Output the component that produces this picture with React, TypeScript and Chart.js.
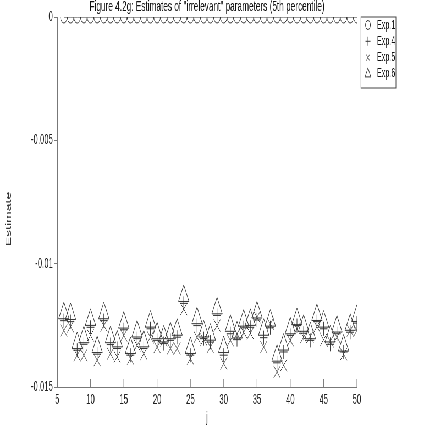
import React, { useEffect, useRef } from "react";
import { Chart, registerables } from "chart.js";

Chart.register(...registerables);

// ---- data ----
const jValues = [6, 7, 8, 9, 10, 11, 12, 13, 14, 15, 16, 17, 18, 19, 20, 21, 22, 23, 24, 25, 26, 27, 28, 29, 30, 31, 32, 33, 34, 35, 36, 37, 38, 39, 40, 41, 42, 43, 44, 45, 46, 47, 48, 49, 50];

const exp1 = [0, 0, 0, 0, 0, 0, 0, 0, 0, 0, 0, 0, 0, 0, 0, 0, 0, 0, 0, 0, 0, 0, 0, 0, 0, 0, 0, 0, 0, 0, 0, 0, 0, 0, 0, 0, 0, 0, 0, 0, 0, 0, 0, 0, 0];

const exp4 = [-0.01231, -0.01235, -0.01351, -0.01327, -0.01258, -0.01367, -0.01231, -0.01328, -0.01344, -0.01268, -0.01371, -0.01304, -0.01344, -0.01264, -0.01311, -0.01324, -0.01311, -0.01298, -0.01161, -0.01371, -0.01251, -0.01304, -0.01318, -0.0121, -0.01371, -0.01284, -0.01308, -0.0126, -0.01258, -0.01228, -0.013, -0.0126, -0.01402, -0.01358, -0.01291, -0.01251, -0.01282, -0.01311, -0.01235, -0.01264, -0.01327, -0.01284, -0.01358, -0.01278, -0.01241];

const exp5 = [-0.01271, -0.01255, -0.01371, -0.01371, -0.01291, -0.01391, -0.01251, -0.01365, -0.01378, -0.01291, -0.01385, -0.01331, -0.01365, -0.01298, -0.01338, -0.01311, -0.01344, -0.01344, -0.01184, -0.01385, -0.01298, -0.01308, -0.01338, -0.01251, -0.01405, -0.01311, -0.01284, -0.01278, -0.01282, -0.01217, -0.01338, -0.01244, -0.01439, -0.01412, -0.01311, -0.01264, -0.01298, -0.01295, -0.01255, -0.01308, -0.01314, -0.01298, -0.01367, -0.01271, -0.01271];

const exp6 = [-0.01201, -0.01204, -0.01322, -0.01298, -0.01228, -0.01338, -0.01201, -0.01298, -0.01315, -0.01239, -0.01342, -0.01275, -0.01315, -0.01235, -0.01282, -0.01295, -0.01282, -0.01268, -0.01131, -0.01342, -0.01221, -0.01275, -0.01288, -0.01181, -0.01338, -0.01252, -0.01279, -0.01231, -0.01228, -0.01198, -0.01268, -0.01231, -0.01373, -0.01328, -0.01262, -0.01225, -0.01252, -0.01282, -0.01208, -0.01235, -0.01295, -0.01255, -0.01332, -0.01248, -0.01212];

const seriesLabels = ["Exp.1", "Exp.4", "Exp.5", "Exp.6"];
const seriesStyles = ["circle", "cross", "crossRot", "triangle"];
const xMin = 5;
const xMax = 50;
const xStep = 5;
const yMin = -0.015;
const yMax = 0;
const yStep = 0.005;
const titleText = 'Figure 4.2g: Estimates of "irrelevant" parameters (5th percentile)';
const xTitle = "j";
const yTitle = "Estimate";

// ---- layout (logical canvas is squeezed horizontally) ----
const S = 0.55;
const W = 793;
const H = 436;
const FONT = '"Liberation Sans", Arial, Helvetica, sans-serif';
const INK = "#333";
const AXIS = "#777";

function drawMarker(ctx: CanvasRenderingContext2D, style: string, x: number, y: number, r: number) {
  ctx.beginPath();
  if (style === "circle") {
    ctx.arc(x, y, r, 0, Math.PI * 2);
  } else if (style === "cross") {
    ctx.moveTo(x - r, y);
    ctx.lineTo(x + r, y);
    ctx.moveTo(x, y - r);
    ctx.lineTo(x, y + r);
  } else if (style === "crossRot") {
    const d = r * Math.SQRT1_2;
    ctx.moveTo(x - d, y - d);
    ctx.lineTo(x + d, y + d);
    ctx.moveTo(x - d, y + d);
    ctx.lineTo(x + d, y - d);
  } else if (style === "triangle") {
    ctx.moveTo(x, y - r);
    ctx.lineTo(x + r * Math.sin(Math.PI / 3), y + r / 2);
    ctx.lineTo(x - r * Math.sin(Math.PI / 3), y + r / 2);
    ctx.closePath();
  }
  ctx.stroke();
}

const decorPlugin = {
  id: "decor",
  afterDraw(chart: any) {
    const ctx: CanvasRenderingContext2D = chart.ctx;
    const area = chart.chartArea;
    const xs = chart.scales.x;
    ctx.save();
    // inward x ticks
    ctx.strokeStyle = AXIS;
    ctx.lineWidth = 1;
    xs.ticks.forEach((t: any) => {
      const px = xs.getPixelForValue(t.value);
      ctx.beginPath();
      ctx.moveTo(px, area.bottom);
      ctx.lineTo(px, area.bottom - 8);
      ctx.stroke();
    });
    // title
    ctx.fillStyle = "#111";
    ctx.font = `15px ${FONT}`;
    ctx.textAlign = "center";
    ctx.textBaseline = "middle";
    ctx.fillText(titleText, (area.left + area.right) / 2, 7);
    // y axis title
    ctx.save();
    ctx.translate(9 / S, 219);
    ctx.rotate(-Math.PI / 2);
    ctx.font = `14px ${FONT}`;
    ctx.fillStyle = "#333";
    ctx.fillText(yTitle, 0, 0);
    ctx.restore();
    // legend
    const bx0 = 361 / S;
    const bx1 = 396 / S;
    const by0 = 17;
    const by1 = 88;
    ctx.strokeStyle = "#444";
    ctx.strokeRect(bx0, by0, bx1 - bx0, by1 - by0);
    ctx.font = `13px ${FONT}`;
    ctx.textAlign = "left";
    ctx.textBaseline = "middle";
    seriesLabels.forEach((lab, i) => {
      const cy = 25 + i * 16.3;
      ctx.strokeStyle = INK;
      drawMarker(ctx, seriesStyles[i], 368 / S, cy, seriesStyles[i] === "triangle" ? 6 : 4.5);
      ctx.fillStyle = "#111";
      ctx.fillText(lab, 377 / S, cy);
    });
    ctx.restore();
  },
};

export default function App() {
  const ref = useRef<HTMLCanvasElement | null>(null);

  useEffect(() => {
    if (!ref.current) return;
    Chart.defaults.font.family = FONT;
    const mk = (vals: number[]) => jValues.map((x, i) => ({ x, y: vals[i] }));
    const base = { borderColor: INK, backgroundColor: "rgba(0,0,0,0)", borderWidth: 1, pointBorderWidth: 1 };
    const chart = new Chart(ref.current, {
      type: "scatter",
      data: {
        datasets: [
          { ...base, label: seriesLabels[0], data: mk(exp1), pointStyle: "circle", pointRadius: 6, showLine: true },
          { ...base, label: seriesLabels[1], data: mk(exp4), pointStyle: "cross", pointRadius: 7 },
          { ...base, label: seriesLabels[2], data: mk(exp5), pointStyle: "crossRot", pointRadius: 8.5 },
          { ...base, label: seriesLabels[3], data: mk(exp6), pointStyle: "triangle", pointRadius: 11 },
        ],
      },
      options: {
        responsive: false,
        animation: false,
        devicePixelRatio: 1,
        layout: { padding: { left: 0, right: W - 649, top: 17, bottom: 0 } },
        plugins: {
          legend: { display: false },
          title: { display: false },
          tooltip: { enabled: false },
        },
        scales: {
          x: {
            type: "linear",
            min: xMin,
            max: xMax,
            ticks: { stepSize: xStep, padding: 5, color: "#222", font: { size: 14 } },
            grid: { drawOnChartArea: false, drawTicks: false, color: AXIS },
            border: { color: AXIS },
            title: { display: true, text: xTitle, color: "#222", font: { size: 15 }, padding: { top: 0, bottom: 9 } },
            afterFit: (s: any) => {
              s.height = H - 387;
            },
          },
          y: {
            type: "linear",
            min: yMin,
            max: yMax,
            ticks: {
              stepSize: yStep,
              padding: 2,
              color: "#222",
              font: { size: 14 },
              callback: (v: any) => {
                const n = Number(v);
                if (Math.abs(n) < 1e-12) return "0";
                return String(Number(n.toFixed(3)));
              },
            },
            grid: { drawOnChartArea: false, drawTicks: true, tickLength: 6, color: AXIS },
            border: { color: AXIS },
            title: { display: false, text: yTitle },
            afterFit: (s: any) => {
              s.width = 104;
            },
          },
        },
      },
      plugins: [decorPlugin],
    } as any);
    return () => chart.destroy();
  }, []);

  return (
    <div
      style={{
        position: "fixed",
        left: 0,
        top: 0,
        width: W,
        height: H,
        transform: `scaleX(${S})`,
        transformOrigin: "0 0",
        background: "#fff",
      }}
    >
      <canvas ref={ref} width={W} height={H} style={{ display: "block" }} />
    </div>
  );
}
